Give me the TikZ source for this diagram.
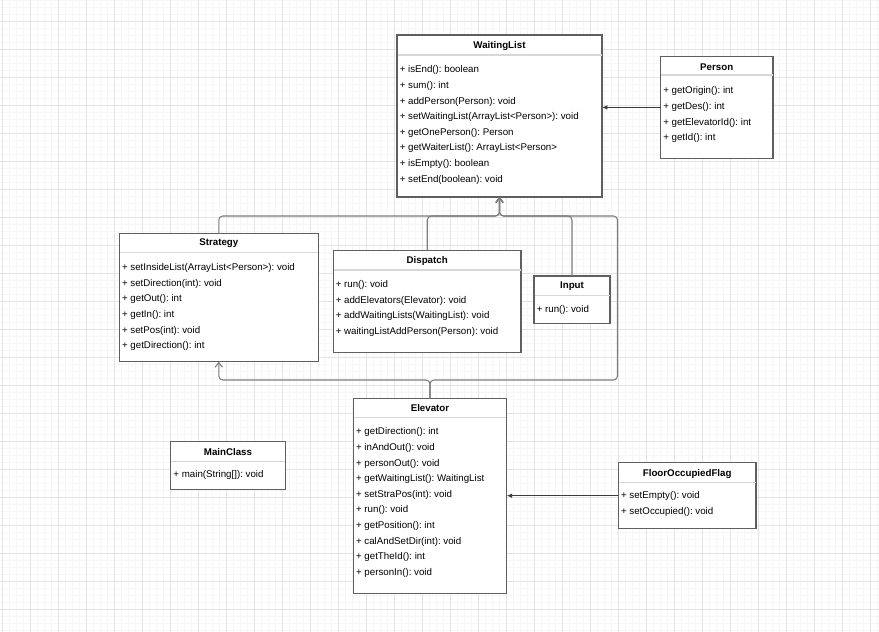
\documentclass[tikz,border=0pt]{standalone}
\usepackage{fontspec}
\setmainfont{Liberation Sans}
\usepackage{xcolor}
\usepackage{tikz}
\usetikzlibrary{arrows.meta,fit}
\frenchspacing

\definecolor{boxgray}{RGB}{95,95,95}
\definecolor{sepgray}{RGB}{215,215,215}
\definecolor{linegray}{RGB}{125,125,125}
\definecolor{arrowgray}{RGB}{60,60,60}
\definecolor{majorgrid}{RGB}{228,228,228}
\definecolor{minorgrid}{RGB}{246,246,246}

\begin{document}
\begin{tikzpicture}[
    x=0.75pt, y=-0.75pt,
    box/.style={rectangle, draw=boxgray, line width=1pt, fill=white, inner sep=0pt, outer sep=0pt},
    clsname/.style={font=\fontsize{7.3}{9}\selectfont\bfseries, inner sep=0pt},
    meth/.style={anchor=west, font=\fontsize{7.3}{9}\selectfont, inner sep=0pt, text height=5.3pt, text depth=1.5pt},
    sep/.style={draw=sepgray, line width=0.8pt},
    gen/.style={draw=linegray, line width=0.8pt, rounded corners=3pt, -{Straight Barb[length=3.5pt,width=5.5pt]}},
    assoc/.style={draw=arrowgray, line width=0.8pt, -{Latex[length=4pt,width=3.5pt]}}
]
    \useasboundingbox (0,0) rectangle (879,632);

    % grid
    \foreach \gx in {-4.3,2.7,...,880} \draw [minorgrid, line width=0.5pt] (\gx,0) -- (\gx,632);
    \foreach \gy in {0.3,7.3,...,633} \draw [minorgrid, line width=0.5pt] (0,\gy) -- (879,\gy);
    \foreach \gx in {2.7,30.7,...,880} \draw [majorgrid, line width=0.6pt] (\gx,0) -- (\gx,632);
    \foreach \gy in {21.3,49.3,...,633} \draw [majorgrid, line width=0.6pt] (0,\gy) -- (879,\gy);

    % WaitingList
    \node (wl) [box, fit={(397,35) (602,197)}] {};
    \node (wl-name) [clsname] at (499.5,46) {WaitingList};
    \draw [sep] (397.5,55) -- (601.5,55);
    \foreach \m [count=\i] in {+ isEnd(): boolean, + sum(): int, + addPerson(Person): void,
        + setWaitingList(ArrayList<Person>): void, + getOnePerson(): Person,
        + getWaiterList(): ArrayList<Person>, + isEmpty(): boolean, + setEnd(boolean): void}
        \node (wl-m\i) [meth] at (399.5,54.8+15.6*\i) {\m};

    % Person
    \node (person) [box, fit={(660.5,56.5) (773,158.3)}] {};
    \node (person-name) [clsname] at (716.7,67) {Person};
    \draw [sep] (661,75) -- (772.5,75);
    \foreach \m [count=\i] in {+ getOrigin(): int, + getDes(): int, + getElevatorId(): int, + getId(): int}
        \node (person-m\i) [meth] at (663,75.7+15.6*\i) {\m};

    % Strategy
    \node (strat) [box, fit={(119.3,233.3) (318.3,361.7)}] {};
    \node (strat-name) [clsname] at (218.8,243.5) {Strategy};
    \draw [sep] (119.8,252.7) -- (317.8,252.7);
    \foreach \m [count=\i] in {+ setInsideList(ArrayList<Person>): void, + setDirection(int): void,
        + getOut(): int, + getIn(): int, + setPos(int): void, + getDirection(): int}
        \node (strat-m\i) [meth] at (121.8,252.5+15.6*\i) {\m};

    % Dispatch
    \node (disp) [box, fit={(333.5,250.7) (521,352.7)}] {};
    \node (disp-name) [clsname] at (427.2,261) {Dispatch};
    \draw [sep] (334,270) -- (520.5,270);
    \foreach \m [count=\i] in {+ run(): void, + addElevators(Elevator): void,
        + addWaitingLists(WaitingList): void, + waitingListAddPerson(Person): void}
        \node (disp-m\i) [meth] at (335.5,269.5+15.6*\i) {\m};

    % Input
    \node (inp) [box, fit={(534,276) (610,323.3)}] {};
    \node (inp-name) [clsname] at (572,286.5) {Input};
    \draw [sep] (534.5,295.3) -- (609.5,295.3);
    \node (inp-m1) [meth] at (536.5,310.1) {+ run(): void};

    % Elevator
    \node (elev) [box, fit={(353.3,398.3) (506.7,593.3)}] {};
    \node (elev-name) [clsname] at (430,408.5) {Elevator};
    \draw [sep] (353.8,417.3) -- (506.2,417.3);
    \foreach \m [count=\i] in {+ getDirection(): int, + inAndOut(): void, + personOut(): void,
        + getWaitingList(): WaitingList, + setStraPos(int): void, + run(): void,
        + getPosition(): int, + calAndSetDir(int): void, + getTheId(): int, + personIn(): void}
        \node (elev-m\i) [meth] at (355.8,416.8+15.6*\i) {\m};

    % MainClass
    \node (main) [box, fit={(170.7,441.7) (285.3,489.3)}] {};
    \node (main-name) [clsname] at (228,452.5) {MainClass};
    \draw [sep] (171.2,461.7) -- (284.8,461.7);
    \node (main-m1) [meth] at (173.2,475.4) {+ main(String[]): void};

    % FloorOccupiedFlag
    \node (fof) [box, fit={(618.3,462.7) (756,528.7)}] {};
    \node (fof-name) [clsname] at (687.2,473.5) {FloorOccupiedFlag};
    \draw [sep] (618.8,482.7) -- (755.5,482.7);
    \foreach \m [count=\i] in {+ setEmpty(): void, + setOccupied(): void}
        \node (fof-m\i) [meth] at (620.8,480.8+15.6*\i) {\m};

    % connectors
    \coordinate (topbus) at (0,216);
    \coordinate (lowbus) at (0,380);
    \coordinate (rightbus) at (617.5,0);

    \draw [assoc] (person.west) -- (person.west -| wl.east);
    \draw [assoc] (fof.west) -- (fof.west -| elev.east);

    \draw [gen] (strat.north) |- (wl.south |- topbus) -- (wl.south);
    \draw [gen] (disp.north) |- (wl.south |- topbus) -- (wl.south);
    \draw [gen] (inp.north) |- (wl.south |- topbus) -- (wl.south);
    \draw [gen] (elev.north) |- (rightbus |- lowbus) |- (wl.south |- topbus) -- (wl.south);
    \draw [gen] (elev.north) |- (strat.south |- lowbus) -- (strat.south);
\end{tikzpicture}
\end{document}
